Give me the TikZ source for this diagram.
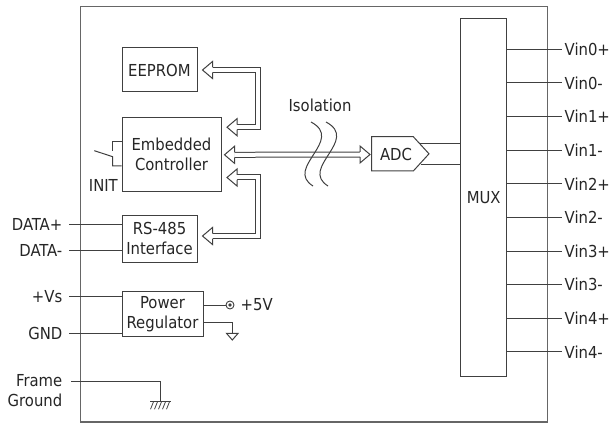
\documentclass[tikz,border=0pt]{standalone}
\usepackage{fontspec}
\setmainfont{DejaVu Sans Condensed}
\usetikzlibrary{calc}
\newcommand{\LineColor}{black!75}

\begin{document}
\begin{tikzpicture}[x=1pt,y=-1pt,line join=miter,
  every node/.style={font=\fontsize{16.5}{20.5}\selectfont,text=black!85},
  blk/.style={draw=\LineColor,line width=1pt,inner sep=0pt,align=center},
  wire/.style={draw=\LineColor,line width=1pt},
  bus/.style={draw=\LineColor,line width=1pt,double=white,double distance=4pt},
  lbl/.style={inner sep=2pt},
  hhead/.pic={\filldraw[draw=\LineColor,fill=white,line width=1pt]
    (-10,-2.5) -- (-10,-8.5) -- (0,0) -- (-10,8.5) -- (-10,2.5);}]
  \useasboundingbox (0,0) rectangle (616,425);
  % module frame
  \draw[draw=black!60,line width=1.3pt] (80.3,6.7) rectangle (547.7,422);

  % blocks
  \node[blk,minimum width=75,minimum height=44] (eeprom) at (159.5,70) {EEPROM};
  \node[blk,minimum width=99,minimum height=73] (ctrl) at (171.5,154.5) {Embedded\\Controller};
  \node[blk,minimum width=75,minimum height=47] (rs) at (159.5,238.7) {RS-485\\Interface};
  \node[blk,minimum width=81,minimum height=45] (power) at (162.5,314.2) {Power\\Regulator};
  \node[blk,minimum width=46,minimum height=357] (mux) at (483.7,197.5) {MUX};
  \draw[wire] (371.7,136.7) -- (413.3,136.7) -- (429,153.8) -- (413.3,171) -- (371.7,171) -- cycle;
  \node (adc) at (396,154) {ADC};
  \coordinate (adcw) at (371.7,154.5);
  \node (iso) at (320,105) {Isolation};

  % buses
  \draw[bus] ([xshift=15pt]eeprom.east) -| ([xshift=36.5pt,yshift=-9.7pt]ctrl.north east)
    -- ([xshift=15.5pt,yshift=-9.7pt]ctrl.north east);
  \draw[bus] ([xshift=13pt,yshift=-0.3pt]ctrl.east) -- ([xshift=-11.7pt]adcw);
  \draw[bus] ([xshift=15.5pt,yshift=14pt]ctrl.south east) -| ([xshift=60.5pt,yshift=2.7pt]rs.east)
    -- ([xshift=15pt,yshift=2.7pt]rs.east);
  \pic[rotate=180] at ([xshift=5pt]eeprom.east) {hhead};
  \pic[rotate=180] at ([xshift=5.5pt,yshift=-9.7pt]ctrl.north east) {hhead};
  \pic[rotate=180] at ([xshift=3pt,yshift=-0.3pt]ctrl.east) {hhead};
  \pic[rotate=180] at ([xshift=5.5pt,yshift=14pt]ctrl.south east) {hhead};
  \pic[rotate=180] at ([xshift=5pt,yshift=2.7pt]rs.east) {hhead};
  \pic at ([xshift=-1.7pt]adcw) {hhead};

  % isolation barrier
  \draw[wire] (311,122) .. controls (345,140) and (284,168) .. (313,186);
  \draw[wire] (326,122) .. controls (360,140) and (299,168) .. (328,186);

  % ADC to MUX
  \draw[wire] (420.2,144) -- (mux.west |- 0,144);
  \draw[wire] (420.6,164.3) -- (mux.west |- 0,164.3);

  % analog inputs
  \foreach \name [count=\i from 0] in {Vin0+,Vin0-,Vin1+,Vin1-,Vin2+,Vin2-,Vin3+,Vin3-,Vin4+,Vin4-}{
    \pgfmathsetmacro\yy{49.4+33.6*\i}
    \draw[wire] (mux.east |- 0,\yy) -- ++(55,0) node[lbl,right] (v\i) {\name};
  }

  % INIT switch
  \node[lbl,anchor=east] (init) at (120,185.5) {INIT};
  \draw[wire] (ctrl.west |- 0,141.7) -- (112.7,141.7) -- (112.7,150.7);
  \draw[wire] (94.3,150.7) -- (112.7,156.7) -- (112.7,166) -- (ctrl.west |- 0,166);

  % field side
  \node[lbl,anchor=east] (dp) at (64.5,224) {DATA+};
  \node[lbl,anchor=east] (dm) at (64.5,250) {DATA-};
  \node[lbl,anchor=east] (vs) at (64.5,296.7) {+Vs};
  \node[lbl,anchor=east] (gnd) at (64.5,333.3) {GND};
  \node[lbl,anchor=east,align=right] (fg) at (64.5,390.5) {Frame\\Ground};
  \draw[wire,shorten <=4.5pt] (dp) -- (dp -| rs.west);
  \draw[wire,shorten <=4.5pt] (dm) -- (dm -| rs.west);
  \draw[wire,shorten <=4.5pt] (vs) -- (vs -| power.west);
  \draw[wire,shorten <=4.5pt] (gnd) -- (gnd -| power.west);
  \coordinate (fgpin) at (71,381.7);
  \draw[wire] (fgpin) -| (160.7,401.7) coordinate (chs);
  \draw[wire] ([xshift=-10.7pt]chs) -- ([xshift=10pt]chs);
  \foreach \dx in {-7.2,-3.2,0.8,4.8,8.8}
    \draw[wire,line width=0.8pt] ([xshift=\dx pt]chs) -- ++(-3,7.5);

  % regulator outputs
  \node[circle,draw=\LineColor,line width=0.9pt,minimum size=8,inner sep=0pt] (tap) at (230,305) {};
  \fill[\LineColor] (tap.center) circle (1.8);
  \draw[wire] (power.east |- tap) -- (tap);
  \node[lbl,anchor=west] (v5) at (238.5,305) {+5V};
  \draw[wire] (power.east |- 0,322.7) -| (232.3,333.3) coordinate (agnd);
  \draw[wire] (agnd) ++(-5.8,0) -- ++(11.6,0) -- (232.3,340) -- cycle;
\end{tikzpicture}
\end{document}
